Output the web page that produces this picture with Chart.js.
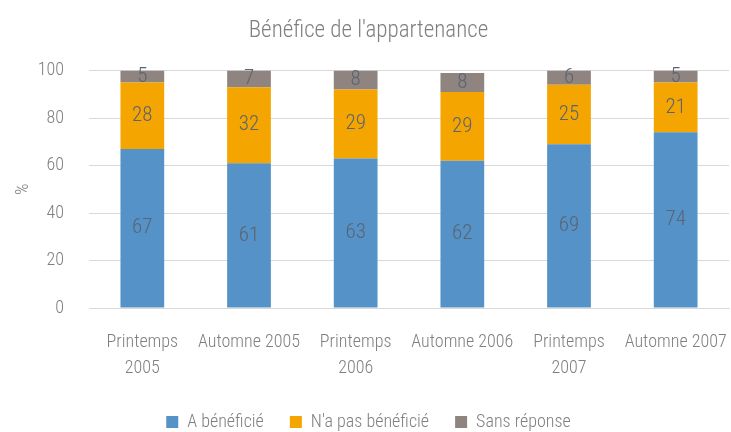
<!DOCTYPE html>
<html><head><meta charset="utf-8">
<script src="https://cdn.jsdelivr.net/npm/chart.js@4"></script>
<style>html,body{margin:0;padding:0;background:#fff}#w{width:731px;height:432px}</style>
</head><body><div id="w"><canvas id="c"></canvas></div>
<script>
const categories = [["Printemps","2005"],"Automne 2005",["Printemps","2006"],"Automne 2006",["Printemps","2007"],"Automne 2007"];
const aBeneficie = [67,61,63,62,69,74];
const nAPasBeneficie = [28,32,29,29,25,21];
const sansReponse = [5,7,8,8,6,5];
const yTicks = [0,20,40,60,80,100];
const FONT = "'Roboto Condensed','Liberation Sans Narrow',sans-serif";

const labelPlugin = {
  id:'barLabels',
  afterDatasetsDraw(chart){
    const ctx = chart.ctx;
    ctx.save();
    ctx.font = "300 21px " + FONT;
    ctx.fillStyle = "#5b6470";
    ctx.textAlign = "center";
    ctx.textBaseline = "middle";
    chart.data.datasets.forEach((ds,i)=>{
      chart.getDatasetMeta(i).data.forEach((bar,j)=>{
        const mid = (bar.y + bar.base)/2;
        ctx.fillText(String(ds.data[j]), bar.x, mid);
      });
    });
    ctx.restore();
  }
};

new Chart(document.getElementById('c'),{
  type:'bar',
  data:{labels:categories,datasets:[
    {label:"A bénéficié",data:aBeneficie,backgroundColor:"#5592c8"},
    {label:"N'a pas bénéficié",data:nAPasBeneficie,backgroundColor:"#f5a500"},
    {label:"Sans réponse",data:sansReponse,backgroundColor:"#8f8480"}
  ]},
  options:{
    responsive:true,maintainAspectRatio:false,animation:false,
    layout:{padding:{left:8,right:2,top:0,bottom:-9}},
    datasets:{bar:{categoryPercentage:1,barPercentage:0.41}},
    plugins:{
      title:{display:true,text:"Bénéfice de l'appartenance",color:"#7f7f7f",font:{family:FONT,size:23,weight:'300'},padding:{top:17,bottom:26}},
      legend:{position:'bottom',labels:{color:"#7f7f7f",font:{family:FONT,size:18,weight:'300'},boxWidth:12,boxHeight:12,padding:26}},
      tooltip:{enabled:false}
    },
    scales:{
      x:{stacked:true,
        grid:{display:true,drawOnChartArea:false,drawTicks:true,tickLength:21,color:'rgba(0,0,0,0)'},
        border:{color:"#d9d9d9",width:1},
        afterFit(s){s.height=79;},
        ticks:{color:"#7f7f7f",font:{family:FONT,size:18,weight:'300',lineHeight:1.45},maxRotation:0,autoSkip:false,padding:0}},
      y:{stacked:true,min:0,max:100,
        afterBuildTicks(ax){ax.ticks=yTicks.map(v=>({value:v}));},
        afterFit(s){s.width=81;},
        grid:{color:"#d9d9d9",drawTicks:false},border:{display:false},
        ticks:{color:"#7f7f7f",font:{family:FONT,size:18,weight:'300'},padding:25},
        title:{display:true,text:"%",color:"#7f7f7f",font:{family:FONT,size:18,weight:'300'},padding:{top:5,bottom:5}}}
    }
  },
  plugins:[labelPlugin]
});
</script></body></html>
